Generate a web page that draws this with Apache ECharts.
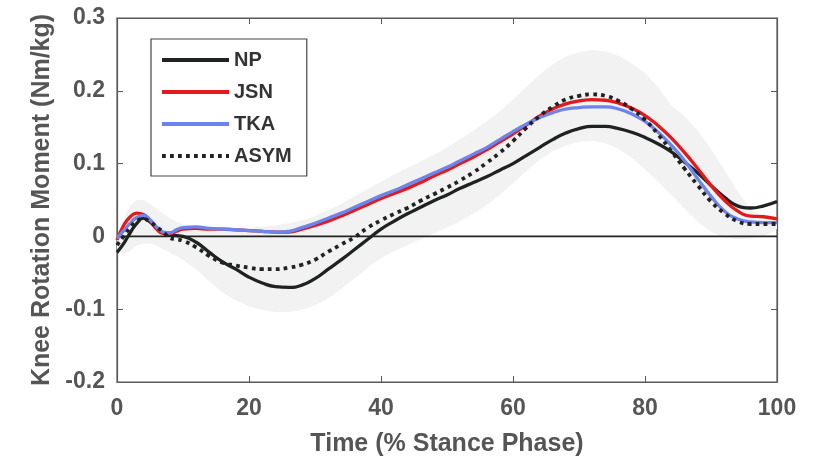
<!DOCTYPE html>
<html>
<head>
<meta charset="utf-8">
<script src="https://cdn.jsdelivr.net/npm/echarts@6/dist/echarts.min.js"></script>
<style>html,body{margin:0;padding:0;background:#fff;}#c{width:818px;height:464px;}</style>
</head>
<body>
<div id="c"></div>
<script>
const xPct = [0,1,2,3,4,5,6,7,8,9,10,12,14,16,18,20,22,24,26,28,30,32,34,36,38,40,42,44,46,48,50,52,54,56,58,60,62,64,66,68,70,72,74,76,78,80,82,84,86,88,90,92,94,96,98,100];
const NP = [-0.022,-0.01,0.005,0.018,0.025,0.02,0.012,0.005,0.002,0.001,0.0,-0.008,-0.022,-0.035,-0.045,-0.056,-0.064,-0.069,-0.070,-0.067,-0.058,-0.045,-0.032,-0.018,-0.004,0.01,0.021,0.031,0.04,0.049,0.057,0.066,0.074,0.082,0.091,0.1,0.111,0.122,0.133,0.142,0.148,0.151,0.151,0.148,0.143,0.136,0.127,0.116,0.102,0.087,0.07,0.054,0.042,0.039,0.042,0.048];
const JSN = [-0.005,0.015,0.027,0.032,0.03,0.022,0.01,0.004,0.004,0.007,0.01,0.011,0.01,0.01,0.009,0.008,0.007,0.006,0.006,0.01,0.015,0.021,0.028,0.036,0.044,0.052,0.059,0.066,0.074,0.083,0.091,0.1,0.109,0.119,0.13,0.141,0.153,0.165,0.175,0.182,0.186,0.188,0.187,0.183,0.176,0.166,0.152,0.135,0.115,0.093,0.07,0.05,0.035,0.028,0.027,0.024];
const TKA = [-0.003,0.008,0.018,0.026,0.029,0.023,0.013,0.006,0.005,0.009,0.012,0.013,0.011,0.01,0.009,0.008,0.007,0.006,0.007,0.012,0.018,0.025,0.032,0.04,0.048,0.056,0.063,0.071,0.079,0.087,0.095,0.104,0.113,0.122,0.133,0.144,0.154,0.163,0.17,0.175,0.177,0.178,0.178,0.175,0.168,0.158,0.143,0.125,0.104,0.079,0.055,0.035,0.024,0.02,0.019,0.019];
const ASYM = [-0.012,0.0,0.012,0.021,0.024,0.02,0.013,0.006,-0.002,-0.004,-0.006,-0.015,-0.027,-0.036,-0.04,-0.043,-0.045,-0.045,-0.043,-0.039,-0.032,-0.021,-0.011,-0.001,0.012,0.022,0.031,0.039,0.049,0.058,0.067,0.077,0.088,0.101,0.115,0.131,0.149,0.165,0.178,0.188,0.193,0.195,0.193,0.186,0.175,0.16,0.14,0.117,0.093,0.07,0.048,0.032,0.021,0.017,0.017,0.017];
const bandUpper = [0.0,0.025,0.042,0.05,0.05,0.045,0.038,0.031,0.025,0.02,0.017,0.012,0.008,0.008,0.01,0.012,0.013,0.015,0.018,0.022,0.028,0.036,0.045,0.055,0.065,0.075,0.085,0.094,0.103,0.112,0.122,0.133,0.145,0.158,0.172,0.188,0.205,0.222,0.236,0.247,0.253,0.256,0.254,0.248,0.238,0.224,0.205,0.18,0.165,0.145,0.12,0.092,0.062,0.038,0.022,0.018];
const bandLower = [-0.02,-0.025,-0.02,-0.012,-0.01,-0.01,-0.012,-0.018,-0.022,-0.027,-0.032,-0.045,-0.062,-0.077,-0.088,-0.096,-0.101,-0.104,-0.104,-0.101,-0.095,-0.085,-0.072,-0.058,-0.043,-0.03,-0.02,-0.012,-0.004,0.004,0.012,0.021,0.031,0.043,0.057,0.073,0.09,0.105,0.117,0.125,0.13,0.131,0.128,0.12,0.108,0.092,0.075,0.057,0.038,0.02,0.006,-0.002,-0.004,-0.003,0.0,0.01];
const xTicks = [0,20,40,60,80,100];
const yTickLabels = ['-0.2','-0.1','0','0.1','0.2','0.3'];
const names = ['NP','JSN','TKA','ASYM'];

const pairs = arr => xPct.map((x,i)=>[x,arr[i]]);
const bandData = xPct.map((x,i)=>[x,bandLower[i],bandUpper[i]]);

const fontFam = '"Liberation Sans", Arial, Helvetica, sans-serif';
const axisCol = '#5a5a5a';
const labCol = '#555555';

const chart = echarts.init(document.getElementById('c'), null, {renderer:'canvas'});
const lineCommon = {type:'line', smooth:true, symbol:'none', showSymbol:false, z:3};
const axisLineStyle = {show:true, onZero:false, lineStyle:{color:axisCol, width:1.2}};
const tickStyle = {show:true, inside:true, length:6, lineStyle:{color:axisCol}};
chart.setOption({
  animation:false,
  backgroundColor:'#ffffff',
  grid:{left:117, right:41, top:18, bottom:82, show:true, borderColor:axisCol, borderWidth:1.2, backgroundColor:'transparent'},
  legend:{
    data:names, orient:'vertical', left:151, top:39,
    padding:[11,15,10,9], itemGap:12, itemWidth:67, itemHeight:14,
    backgroundColor:'#fff', borderColor:'#444', borderWidth:1.2,
    itemStyle:{opacity:0},
    lineStyle:{width:4},
    textStyle:{fontFamily:fontFam, fontWeight:'bold', fontSize:20, color:'#333'}
  },
  xAxis:[{
    type:'value', min:0, max:100, interval:20,
    axisLine:axisLineStyle, axisTick:tickStyle, splitLine:{show:false},
    axisLabel:{fontFamily:fontFam, fontWeight:'bold', fontSize:23, color:labCol, margin:15},
    name:'Time (% Stance Phase)', nameLocation:'middle', nameGap:50,
    nameTextStyle:{fontFamily:fontFam, fontWeight:'bold', fontSize:25, color:labCol}
  },{
    type:'value', min:0, max:100, interval:20, position:'top',
    axisLine:axisLineStyle, axisTick:tickStyle, axisLabel:{show:false}, splitLine:{show:false}
  }],
  yAxis:[{
    type:'value', min:-0.2, max:0.3, interval:0.1,
    axisLine:axisLineStyle, axisTick:tickStyle, splitLine:{show:false},
    axisLabel:{fontFamily:fontFam, fontWeight:'bold', fontSize:23, color:labCol, margin:12,
      formatter:v=>yTickLabels[Math.round((v+0.2)/0.1)]},
    name:'Knee Rotation Moment (Nm/kg)', nameLocation:'middle', nameGap:57,
    nameTextStyle:{fontFamily:fontFam, fontWeight:'bold', fontSize:25, color:labCol}
  },{
    type:'value', min:-0.2, max:0.3, interval:0.1, position:'right',
    axisLine:axisLineStyle, axisTick:tickStyle, axisLabel:{show:false}, splitLine:{show:false}
  }],
  series:[
    {name:'band', type:'custom', silent:true, z:1, clip:true,
      data:bandData,
      renderItem:(params, api)=>{
        if (params.dataIndex !== 0) return null;
        const up = bandData.map(d=>api.coord([d[0], d[2]]));
        const lo = bandData.map(d=>api.coord([d[0], d[1]])).reverse();
        return {type:'polygon', shape:{points:up.concat(lo)}, style:{fill:'#f2f2f2', stroke:null}};
      },
      encode:{x:0, y:[1,2]}
    },
    {name:'zero', type:'line', symbol:'none', data:[[0,0],[100,0]], lineStyle:{color:'#222', width:1.6}, z:2, silent:true},
    Object.assign({}, lineCommon, {name:'NP', data:pairs(NP), lineStyle:{color:'#1f2222', width:3.3}, itemStyle:{color:'#1f2222'}}),
    Object.assign({}, lineCommon, {name:'JSN', data:pairs(JSN), lineStyle:{color:'#e3191b', width:3.3}, itemStyle:{color:'#e3191b'}}),
    Object.assign({}, lineCommon, {name:'TKA', data:pairs(TKA), lineStyle:{color:'#6c84ec', width:3.3}, itemStyle:{color:'#6c84ec'}}),
    Object.assign({}, lineCommon, {name:'ASYM', data:pairs(ASYM), lineStyle:{color:'#222', width:3.8, type:[3.8,4.2]}, itemStyle:{color:'#222'}, z:4})
  ]
});
</script>
</body>
</html>
